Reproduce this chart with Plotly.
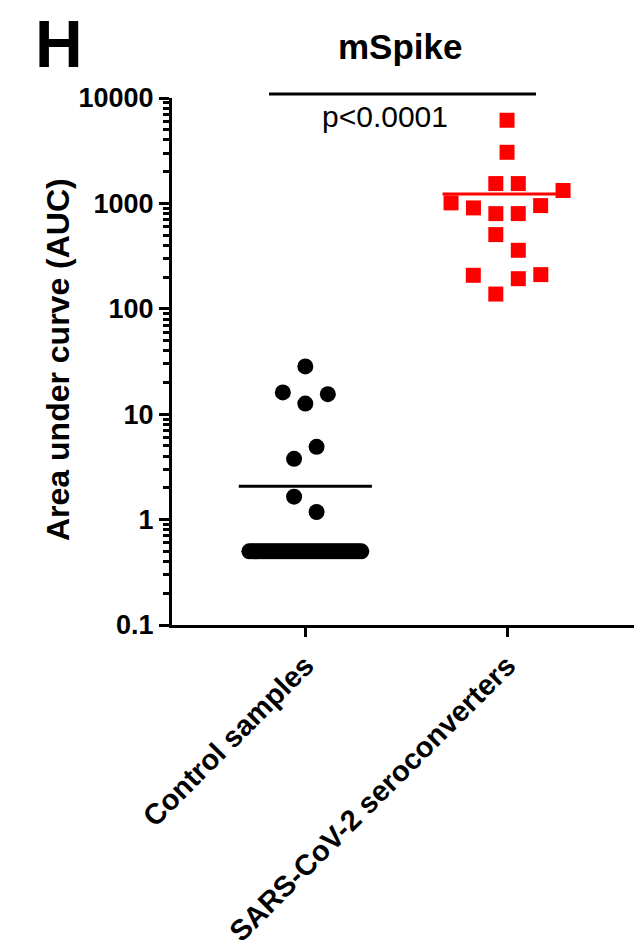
import math
import plotly.graph_objects as go

# ---------------- data ----------------
categories = ["Control samples", "SARS-CoV-2 seroconverters"]

control_auc = [28.4, 15.5, 16.1, 12.6, 4.9, 3.77, 1.65, 1.18,
               0.5, 0.5, 0.5, 0.5, 0.5, 0.5, 0.5, 0.5, 0.5, 0.5,
               0.5, 0.5, 0.5, 0.5, 0.5, 0.5, 0.5, 0.5, 0.5, 0.5,
               0.5, 0.5, 0.5, 0.5, 0.5, 0.5, 0.5, 0.5, 0.5, 0.5,
               0.5, 0.5, 0.5, 0.5, 0.5, 0.5, 0.5, 0.5, 0.5, 0.5,
               0.5, 0.5, 0.5]

sero_auc = [6150, 3055, 1542, 1542, 1325, 1011, 953, 906, 800, 800,
            506, 359, 211, 208, 193, 138]

y_tick_vals = [0.1, 1, 10, 100, 1000, 10000]
y_tick_text = ["0.1", "1", "10", "100", "1000", "10000"]

title_text = "mSpike"
panel_letter = "H"
p_text = "p<0.0001"
y_title = "Area under curve (AUC)"

# ---------------- layout geometry ----------------
# the page body has an 8 px margin, so the figure starts at (8, 8) in the window
OFF = 8
W, H = 642, 948 - OFF
PLOT_L, PLOT_R, PLOT_T, PLOT_B = 172, 642, 98, 625      # window pixels
ML, MT = PLOT_L - OFF, PLOT_T - OFF
MR = (W + OFF) - PLOT_R
MB = (H + OFF) - PLOT_B
XR = [-0.661, 1.669]
YR = [-1, 4]
PW = W - ML - MR
PH = H - MT - MB
px_per_x = PW / (XR[1] - XR[0])
px_per_dec = PH / (YR[1] - YR[0])

FONT = "Liberation Sans, Arial, Helvetica, sans-serif"


def px_to_paper_x(px):
    return (px - PLOT_L) / PW


def px_to_paper_y(py):
    return (PLOT_B - py) / PH


def px_to_data_x(px):
    return (px - PLOT_L) / px_per_x + XR[0]


def swarm_x(values, center, spacing_px=22.5, row_tol_px=26, max_half_px=56):
    """GraphPad-like row scatter: group close values into rows, spread each row."""
    order = sorted(range(len(values)), key=lambda i: values[i])
    xs = [center] * len(values)
    rows = []
    k = 0
    while k < len(order):
        start = math.log10(values[order[k]])
        row = [order[k]]
        k += 1
        while k < len(order) and (math.log10(values[order[k]]) - start) * px_per_dec <= row_tol_px:
            row.append(order[k])
            k += 1
        rows.append(row)
    for r, row in enumerate(rows):
        n = len(row)
        s = spacing_px if n == 1 else min(spacing_px, 2 * max_half_px / (n - 1))
        slots = []
        if n % 2 == 1:
            slots.append(0.0)
            j = 1
            while len(slots) < n:
                slots += [-j, j]
                j += 1
        else:
            j = 0.5
            while len(slots) < n:
                slots += [-j, j]
                j += 1
        slots = slots[:n]
        sign = -1 if r % 2 == 1 else 1
        for idx, sl in zip(row, slots):
            xs[idx] = center + sign * sl * s / px_per_x
    return xs


fig = go.Figure()

cx = swarm_x(control_auc, 0)
sx = swarm_x(sero_auc, 1)

fig.add_trace(go.Scatter(x=cx, y=control_auc, mode="markers",
                         marker=dict(symbol="circle", size=16, color="black",
                                     line=dict(width=0)),
                         showlegend=False, hoverinfo="y"))
fig.add_trace(go.Scatter(x=sx, y=sero_auc, mode="markers",
                         marker=dict(symbol="square", size=15, color="#FF0000",
                                     line=dict(width=0)),
                         showlegend=False, hoverinfo="y"))

c_mean = sum(control_auc) / len(control_auc)
s_mean = sum(sero_auc) / len(sero_auc)
fig.add_trace(go.Scatter(x=[0 - 0.33, 0 + 0.33], y=[c_mean, c_mean], mode="lines",
                         line=dict(color="black", width=3), showlegend=False, hoverinfo="skip"))
fig.add_trace(go.Scatter(x=[1 - 0.32, 1 + 0.30], y=[s_mean, s_mean], mode="lines",
                         line=dict(color="#FF0000", width=3), showlegend=False, hoverinfo="skip"))

minor_vals = [k * 10 ** e for e in range(-1, 4) for k in range(2, 10)]

fig.update_layout(
    width=W, height=H,
    margin=dict(l=ML, r=MR, t=MT, b=MB, autoexpand=False),
    paper_bgcolor="white", plot_bgcolor="white",
    font=dict(family=FONT, color="black"),
    showlegend=False,
    xaxis=dict(range=XR, tickmode="array", tickvals=[0, 1], ticktext=categories,
               tickangle=-45, ticks="outside", ticklen=9, tickwidth=3, tickcolor="black",
               showline=True, linewidth=3, linecolor="black", showgrid=False, zeroline=False,
               automargin=False,
               tickfont=dict(size=29, family=FONT, weight="bold", color="black")),
    yaxis=dict(type="log", range=YR, tickmode="array", tickvals=y_tick_vals, ticktext=y_tick_text,
               ticks="outside", ticklen=10, tickwidth=3, tickcolor="black",
               minor=dict(tickmode="array", tickvals=minor_vals, ticks="outside", ticklen=6,
                          tickwidth=2.5, tickcolor="black", showgrid=False),
               showline=True, linewidth=3, linecolor="black", showgrid=False, zeroline=False,
               automargin=False,
               tickfont=dict(size=27, family=FONT, weight="bold", color="black")),
)

fig.add_annotation(text=panel_letter, xref="paper", yref="paper",
                   x=px_to_paper_x(59), y=px_to_paper_y(44),
                   xanchor="center", yanchor="middle", showarrow=False,
                   font=dict(size=66, family=FONT, weight="bold", color="black"))
fig.add_annotation(text=title_text, xref="paper", yref="paper",
                   x=px_to_paper_x(400), y=px_to_paper_y(46),
                   xanchor="center", yanchor="middle", showarrow=False,
                   font=dict(size=35, family=FONT, weight="bold", color="black"))
fig.add_annotation(text=y_title, xref="paper", yref="paper", textangle=-90,
                   x=px_to_paper_x(58), y=px_to_paper_y(360),
                   xanchor="center", yanchor="middle", showarrow=False,
                   font=dict(size=32, family=FONT, weight="bold", color="black"))

# significance bar
fig.add_shape(type="line", xref="x", yref="paper",
              x0=px_to_data_x(269), x1=px_to_data_x(536),
              y0=px_to_paper_y(94), y1=px_to_paper_y(94),
              line=dict(color="black", width=3))
fig.add_annotation(text=p_text, xref="x", yref="paper",
                   x=px_to_data_x(385), y=px_to_paper_y(116),
                   xanchor="center", yanchor="middle", showarrow=False,
                   font=dict(size=30, family=FONT, color="black"))

fig.write_html("out.html")
